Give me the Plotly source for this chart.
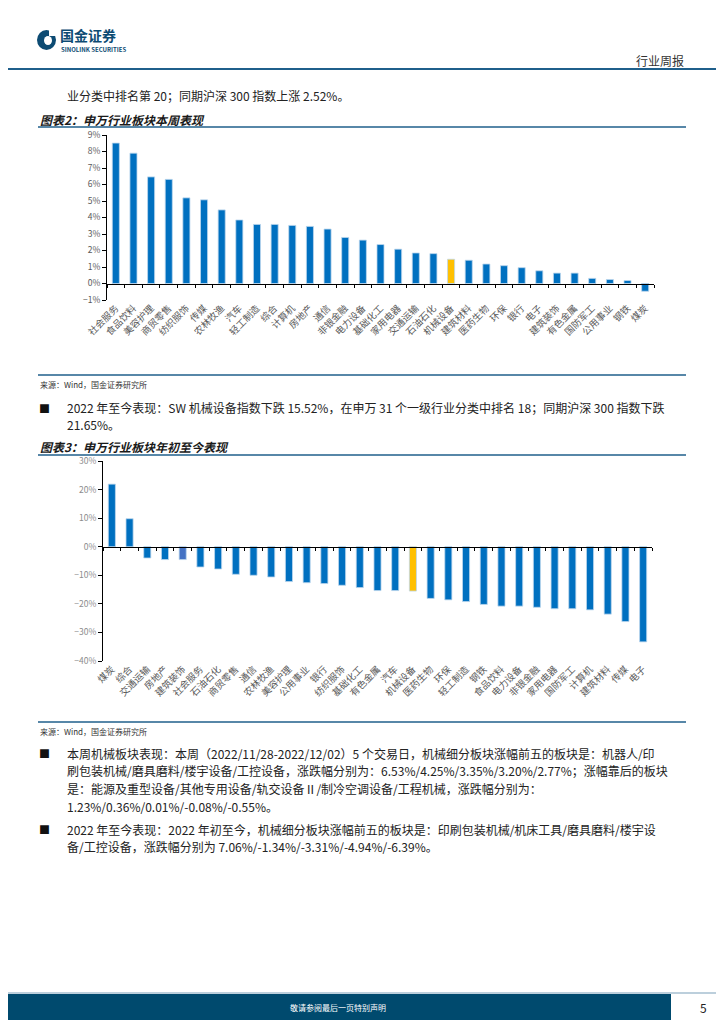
import plotly.graph_objects as go

# ---------------- data ----------------
week_categories = ["社会服务", "食品饮料", "美容护理", "商贸零售", "纺织服饰", "传媒", "农林牧渔", "汽车",
                   "轻工制造", "综合", "计算机", "房地产", "通信", "非银金融", "电力设备", "基础化工",
                   "家用电器", "交通运输", "石油石化", "机械设备", "建筑材料", "医药生物", "环保", "银行",
                   "电子", "建筑装饰", "有色金属", "国防军工", "公用事业", "钢铁", "煤炭"]
week_values = [8.51, 7.90, 6.46, 6.31, 5.19, 5.07, 4.46, 3.85,
               3.58, 3.58, 3.52, 3.46, 3.30, 2.79, 2.63, 2.36,
               2.08, 1.85, 1.81, 1.47, 1.41, 1.18, 1.08, 0.96,
               0.77, 0.63, 0.63, 0.31, 0.24, 0.18, -0.47]

ytd_categories = ["煤炭", "综合", "交通运输", "房地产", "建筑装饰", "社会服务", "石油石化", "商贸零售",
                  "通信", "农林牧渔", "美容护理", "公用事业", "银行", "纺织服饰", "基础化工", "有色金属",
                  "汽车", "机械设备", "医药生物", "环保", "轻工制造", "钢铁", "食品饮料", "电力设备",
                  "非银金融", "家用电器", "国防军工", "计算机", "建筑材料", "传媒", "电子"]
ytd_values = [21.9, 9.8, -3.95, -4.5, -4.5, -7.1, -7.8, -9.65,
              -10.0, -10.6, -12.2, -12.6, -12.9, -13.5, -14.3, -15.35,
              -15.35, -15.52, -18.1, -18.6, -19.2, -20.2, -20.8, -20.8,
              -21.2, -21.7, -21.7, -22.1, -23.6, -26.2, -33.3]

highlight = "机械设备"
ytd_special = "建筑装饰"

week_range = [-1, 9]
week_dtick = 1
ytd_range = [-40, 30]
ytd_dtick = 10

# ---------------- helpers ----------------
PAGE_W, PAGE_H = 724, 1024
OFF = 8  # default body margin of the html page
W, H = PAGE_W - OFF, PAGE_H - OFF
FONT = "Noto Sans CJK SC"
BLUE = "#0070C0"
YELLOW = "#FFC000"
SPECIAL = "#4472C4"
RULE = "#1F5F8B"


def px(x):
    return (x - OFF) / W


def py(y):
    return 1 - (y - OFF) / H


week_colors = [YELLOW if c == highlight else BLUE for c in week_categories]
ytd_colors = [YELLOW if c == highlight else (SPECIAL if c == ytd_special else BLUE) for c in ytd_categories]

fig = go.Figure()

bar_line = dict(color="#BDD7EE", width=0.8)

fig.add_trace(go.Bar(x=week_categories, y=week_values, marker=dict(color=week_colors, line=bar_line),
                     width=0.4, xaxis="x", yaxis="y", hoverinfo="skip", showlegend=False))
fig.add_trace(go.Bar(x=week_categories, y=week_values, marker=dict(color=week_colors, opacity=0),
                     width=0.4, xaxis="x2", yaxis="y", hoverinfo="skip", showlegend=False))
fig.add_trace(go.Bar(x=ytd_categories, y=ytd_values, marker=dict(color=ytd_colors, line=bar_line),
                     width=0.4, xaxis="x3", yaxis="y3", hoverinfo="skip", showlegend=False))
fig.add_trace(go.Bar(x=ytd_categories, y=ytd_values, marker=dict(color=ytd_colors, opacity=0),
                     width=0.4, xaxis="x4", yaxis="y3", hoverinfo="skip", showlegend=False))

c1_x = [px(107), px(654)]
c1_y = [py(300), py(135)]
c2_x = [px(103), px(652)]
c2_y = [py(661), py(461)]


def zero_pos(dom, rng):
    return dom[0] + (0 - rng[0]) / (rng[1] - rng[0]) * (dom[1] - dom[0])


n1 = len(week_categories)
n2 = len(ytd_categories)

label_axis = dict(type="category", showgrid=False, zeroline=False, showline=False, ticks="",
                  automargin=False, tickangle=-45,
                  tickfont=dict(family=FONT, size=9.5, color="#595959"))
zero_axis = dict(type="category", showgrid=False, zeroline=False, showline=True, linecolor="black",
                 linewidth=1.2, ticks="outside", ticklen=3, tickwidth=1, tickcolor="black",
                 tickson="boundaries", showticklabels=False, anchor="free", automargin=False)
value_axis = dict(showgrid=False, zeroline=False, showline=True, linecolor="black", linewidth=1,
                  ticks="outside", ticklen=4, tickcolor="black", ticksuffix="%", automargin=False)

fig.update_layout(
    width=W, height=H,
    margin=dict(l=0, r=0, t=0, b=0, pad=0, autoexpand=False),
    paper_bgcolor="white", plot_bgcolor="rgba(0,0,0,0)",
    xaxis=dict(label_axis, domain=c1_x, anchor="y", range=[-0.5, n1 - 0.5]),
    xaxis2=dict(zero_axis, domain=c1_x, overlaying="x", range=[-0.5, n1 - 0.5],
                position=zero_pos(c1_y, week_range)),
    yaxis=dict(value_axis, domain=c1_y, range=week_range, dtick=week_dtick, anchor="x",
               tickfont=dict(family=FONT, size=8.5, color="#595959")),
    xaxis3=dict(label_axis, domain=c2_x, anchor="y3", range=[-0.5, n2 - 0.5]),
    xaxis4=dict(zero_axis, domain=c2_x, overlaying="x3", range=[-0.5, n2 - 0.5],
                position=zero_pos(c2_y, ytd_range)),
    yaxis3=dict(value_axis, domain=c2_y, range=ytd_range, dtick=ytd_dtick, anchor="x3",
                tickfont=dict(family=FONT, size=8.5, color="#8c8c8c")),
)

shapes = []
annotations = []


def hline(y, x0, x1, color=RULE, width=1.5):
    shapes.append(dict(type="line", xref="paper", yref="paper", x0=px(x0), x1=px(x1),
                       y0=py(y), y1=py(y), line=dict(color=color, width=width)))


def text(t, x, y, size=12, color="#222222", anchor="left", **kw):
    annotations.append(dict(text=t, x=px(x), y=py(y), xref="paper", yref="paper", showarrow=False,
                            xanchor=anchor, yanchor="middle",
                            font=dict(family=FONT, size=size, color=color), **kw))


# header logo
shapes.append(dict(type="circle", xref="paper", yref="paper", x0=px(37), x1=px(56), y0=py(50), y1=py(30),
                   fillcolor="#0D4B73", line=dict(width=0)))
shapes.append(dict(type="circle", xref="paper", yref="paper", x0=px(44), x1=px(52), y0=py(45), y1=py(36),
                   fillcolor="white", line=dict(width=0)))
shapes.append(dict(type="rect", xref="paper", yref="paper", x0=px(49), x1=px(57), y0=py(36), y1=py(29),
                   fillcolor="white", line=dict(width=0)))
text("<b>国金证券</b>", 58, 35, size=14, color="#0D4B73")
text("<b>SINOLINK SECURITIES</b>", 59, 49.5, size=6, color="#0D4B73")
text("行业周报", 686, 60, size=12, color="#333333", anchor="right")
hline(69, 0, 724, width=2)

text("业分类中排名第 20；同期沪深 300 指数上涨 2.52%。", 65, 96)

text("<b><i>图表2：申万行业板块本周表现</i></b>", 38, 119, size=12, color="#1a1a1a")
hline(127, 38, 686)
hline(375, 38, 686)
text("来源：Wind，国金证券研究所", 38, 384, size=8, color="#333333")

text("■", 37, 408, size=11, color="#111111")
text("2022 年至今表现：SW 机械设备指数下跌 15.52%，在申万 31 个一级行业分类中排名 18；同期沪深 300 指数下跌",
     65, 408)
text("21.65%。", 65, 425)

text("<b><i>图表3：申万行业板块年初至今表现</i></b>", 38, 446, size=12, color="#1a1a1a")
hline(455, 38, 686)
hline(722, 38, 686)
text("来源：Wind，国金证券研究所", 38, 731, size=8, color="#333333")

para3 = ["本周机械板块表现：本周（2022/11/28-2022/12/02）5 个交易日，机械细分板块涨幅前五的板块是：机器人/印",
         "刷包装机械/磨具磨料/楼宇设备/工控设备，涨跌幅分别为：6.53%/4.25%/3.35%/3.20%/2.77%；涨幅靠后的板块",
         "是：能源及重型设备/其他专用设备/轨交设备Ⅱ/制冷空调设备/工程机械，涨跌幅分别为：",
         "1.23%/0.36%/0.01%/-0.08%/-0.55%。"]
para4 = ["2022 年至今表现：2022 年初至今，机械细分板块涨幅前五的板块是：印刷包装机械/机床工具/磨具磨料/楼宇设",
         "备/工控设备，涨跌幅分别为 7.06%/-1.34%/-3.31%/-4.94%/-6.39%。"]
text("■", 37, 753, size=11, color="#111111")
for i, line in enumerate(para3):
    text(line, 65, 753 + i * 17.7)
text("■", 37, 829, size=11, color="#111111")
for i, line in enumerate(para4):
    text(line, 65, 829 + i * 17.7)

# footer
hline(993, 0, 724, color="#A6BFD0", width=1.5)
shapes.append(dict(type="rect", xref="paper", yref="paper", x0=px(0), x1=px(671), y0=py(1020), y1=py(994),
                   fillcolor="#004A6E", line=dict(width=0)))
text("敬请参阅最后一页特别声明", 338, 1007, size=8, color="white", anchor="center")
text("5", 703, 1007, size=12, color="#222222", anchor="center")

fig.update_layout(shapes=shapes, annotations=annotations)
fig.write_html("out.html")
